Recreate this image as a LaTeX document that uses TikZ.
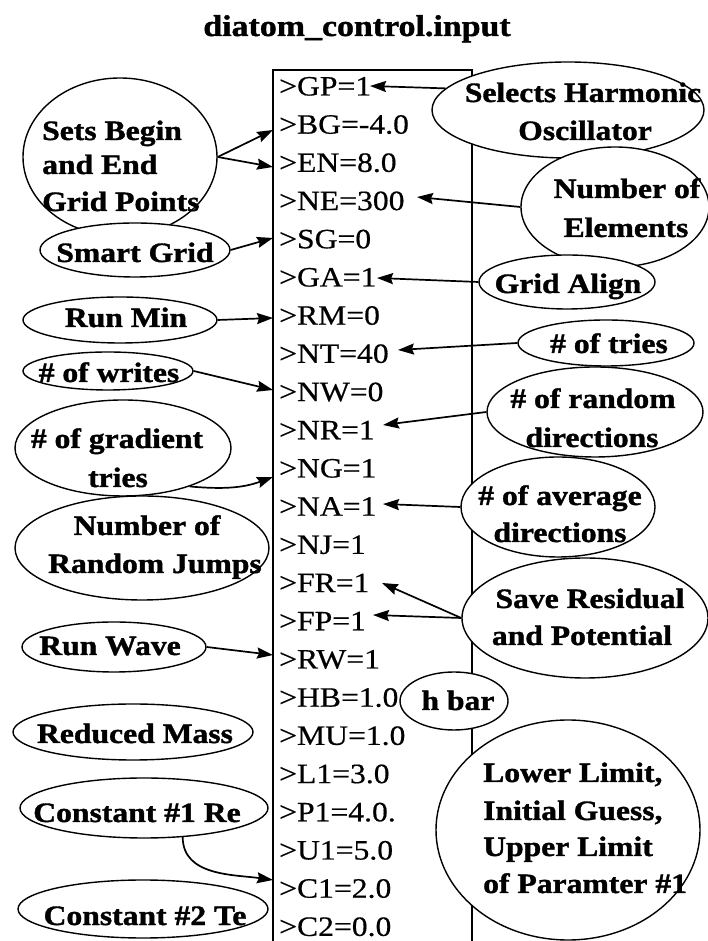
\documentclass[tikz,border=0pt]{standalone}
\usepackage{fontspec}
\setmainfont{Liberation Serif}[FakeStretch=1.13, UprightFeatures={FakeBold=0.5}, BoldFeatures={FakeBold=1.3}]
\usetikzlibrary{shapes.geometric,arrows.meta}
\begin{document}
\begin{tikzpicture}[x=1pt,y=1pt,
  oval/.style={ellipse, draw, line width=1.4pt, fill=white, inner sep=0pt},
  lbl/.style={font=\fontsize{28}{34}\selectfont\bfseries, inner sep=0pt, anchor=base},
  lblw/.style={lbl, anchor=base west},
  row/.style={font=\fontsize{28}{34}\selectfont, inner sep=0pt, anchor=base west},
  arr/.style={line width=1.7pt, -{Stealth[length=16pt,width=11pt,inset=2pt]}},
  boxline/.style={line width=1.4pt}]
\useasboundingbox (0,0) rectangle (708,941);
% title
\node[font=\fontsize{30}{36}\selectfont\bfseries, inner sep=0pt, anchor=base] (title) at (357,941-36) {diatom\_control.input};
% file box
\draw[boxline] (273,0) |- (472,871) -- (472,0);
\foreach \t [count=\i from 0] in {GP=1,BG=-4.0,EN=8.0,NE=300,SG=0,GA=1,RM=0,NT=40,NW=0,NR=1,NG=1,NA=1,NJ=1,FR=1,FP=1,RW=1,HB=1.0,MU=1.0,L1=3.0,P1=4.0.,U1=5.0,C1=2.0,C2=0.0}
  \node[row] (r\i) at (279,845.5-38.2*\i) {>\t};
% left ellipses
\node[oval, minimum width=194, minimum height=158] (sets) at (120,941-157) {};
\node[oval, minimum width=190, minimum height=54] (smart) at (135,941-250) {};
\node[oval, minimum width=194, minimum height=46] (runmin) at (120,941-320) {};
\node[oval, minimum width=170, minimum height=38] (writes) at (108,941-371) {};
\node[oval, minimum width=216, minimum height=96] (grad) at (123,941-448) {};
\node[oval, minimum width=254, minimum height=104] (jumps) at (142,941-548) {};
\node[oval, minimum width=184, minimum height=50] (runwave) at (114,941-647) {};
\node[oval, minimum width=240, minimum height=56] (mass) at (133,941-732) {};
\node[oval, minimum width=248, minimum height=60] (cone) at (144,941-808) {};
\node[oval, minimum width=250, minimum height=58] (ctwo) at (143,941-909) {};
% right ellipses
\node[oval, minimum width=272, minimum height=96] (selh) at (568,941-110) {};
\node[oval, minimum width=188, minimum height=120] (nelem) at (615,941-207) {};
\node[oval, minimum width=176, minimum height=54] (galign) at (567,941-282) {};
\node[oval, minimum width=176, minimum height=46] (tries) at (606,941-343) {};
\node[oval, minimum width=216, minimum height=90] (rand) at (595,941-412) {};
\node[oval, minimum width=194, minimum height=100] (avg) at (558,941-507) {};
\node[oval, minimum width=246, minimum height=120] (save) at (585,941-618) {};
\node[oval, minimum width=108, minimum height=58] (hbar) at (454,941-701) {};
\node[oval, minimum width=264, minimum height=220] (lower) at (568,941-830) {};
% ellipse texts
\node[lblw] (s1) at (42,941-140) {Sets Begin};
\node[lblw] (s2) at (42,941-174) {and End};
\node[lblw] (s3) at (42,941-211) {Grid Points};
\node[lbl] (l2) at (135,941-262) {Smart Grid};
\node[lbl] (l3) at (126,941-327) {Run Min};
\node[lbl] (l4) at (109,941-382) {\# of writes};
\node[lbl] (l5a) at (117,941-448) {\# of gradient};
\node[lbl] (l5b) at (118,941-487) {tries};
\node[lbl] (l6a) at (147,941-535) {Number of};
\node[lbl] (l6b) at (155,941-573) {Random Jumps};
\node[lbl] (l7) at (110,941-655) {Run Wave};
\node[lbl] (l8) at (135,941-743) {Reduced Mass};
\node[lbl] (l9) at (137,941-822) {Constant \#1 Re};
\node[lbl] (l10) at (145,941-925) {Constant \#2 Te};
\node[lbl] (m1a) at (583,941-102) {Selects Harmonic};
\node[lbl] (m1b) at (585,941-140) {Oscillator};
\node[lbl] (m2a) at (627,941-198) {Number of};
\node[lbl] (m2b) at (626,941-237) {Elements};
\node[lbl] (m3) at (568,941-293) {Grid Align};
\node[lbl] (m4) at (609,941-353) {\# of tries};
\node[lbl] (m5a) at (593,941-408) {\# of random};
\node[lbl] (m5b) at (592,941-447) {directions};
\node[lbl] (m6a) at (560,941-505) {\# of average};
\node[lbl] (m6b) at (560,941-542) {directions};
\node[lbl] (m7a) at (590,941-608) {Save Residual};
\node[lbl] (m7b) at (582,941-645) {and Potential};
\node[lbl] (m8) at (458,941-710) {h bar};
\node[lblw] (m9a) at (483,941-782) {Lower Limit,};
\node[lblw] (m9b) at (483,941-820) {Initial Guess,};
\node[lblw] (m9c) at (483,941-856) {Upper Limit};
\node[lblw] (m9d) at (483,941-893) {of Paramter \#1};
% arrow targets
\coordinate (tBG) at (273,941-130);
\coordinate (tEN) at (273,941-167);
\coordinate (tSG) at (273,941-238);
\coordinate (tRM) at (273,941-318);
\coordinate (tNW) at (273,941-390);
\coordinate (tNG) at (273,941-477);
\coordinate (tRW) at (273,941-655);
\coordinate (tC1) at (273,941-880);
\coordinate (tGP) at (370,941-86);
\coordinate (tNE) at (417,941-197);
\coordinate (tGA) at (377,941-278);
\coordinate (tNT) at (398,941-350);
\coordinate (tNR) at (383,941-425);
\coordinate (tNA) at (383,941-504);
\coordinate (tFR) at (382,941-583);
\coordinate (tFP) at (373,941-615);
% arrows
\draw[arr] (sets.east) -- (tBG);
\draw[arr] (sets.east) -- (tEN);
\draw[arr] (smart.east) -- (tSG);
\draw[arr] (runmin.east) -- (tRM);
\draw[arr] (writes.east) -- (tNW);
\draw[arr] (grad.-30) to[out=-5, in=200] (tNG);
\draw[arr] (runwave.east) -- (tRW);
\draw[arr] (cone.-37) to[out=-90, in=172] (tC1);
\draw[arr] (selh.170) -- (tGP);
\draw[arr] (nelem.west) -- (tNE);
\draw[arr] (galign.west) -- (tGA);
\draw[arr] (tries.west) -- (tNT);
\draw[arr] (rand.west) -- (tNR);
\draw[arr] (avg.west) -- (tNA);
\draw[arr] (save.west) -- (tFR);
\draw[arr] (save.west) -- (tFP);
\end{tikzpicture}
\end{document}
